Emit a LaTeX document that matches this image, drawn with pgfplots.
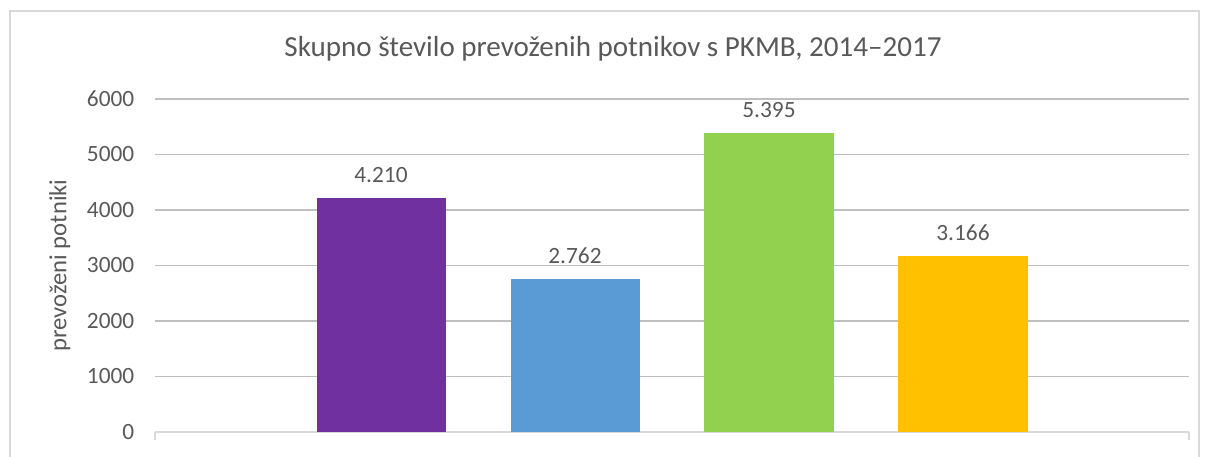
\documentclass[border=0pt]{standalone}
\usepackage{pgfplots}
\pgfplotsset{compat=1.18}
\usepackage{fontspec}
\setmainfont{Carlito}
\definecolor{txt}{HTML}{595959}
\definecolor{grid}{HTML}{D9D9D9}
\definecolor{c1}{HTML}{7030A0}
\definecolor{c2}{HTML}{5B9BD5}
\definecolor{c3}{HTML}{92D050}
\definecolor{c4}{HTML}{FFC000}
\begin{document}
\begin{tikzpicture}[x=0.75pt,y=0.75pt]
\path[use as bounding box] (0,0) rectangle (1208,457);
\draw[grid, line width=1.5pt] (9.5,0) -- (9.5,446) -- (1198.5,446) -- (1198.5,0);
\node[txt, font=\fontsize{21.8}{24}\selectfont] at (613,408) {Skupno število prevoženih potnikov s PKMB, 2014–2017};
\begin{axis}[
  at={(116.25pt,18.75pt)}, anchor=south west,
  scale only axis, width=775.5pt, height=249.75pt,
  xmin=-1.165, xmax=4.165, ymin=0, ymax=6000,
  ytick={0,1000,...,6000},
  xtick=\empty,
  axis y line*=left, axis x line*=bottom,
  y axis line style={draw=none},
  x axis line style={grid, line width=1pt},
  ymajorgrids, grid style={grid, line width=0.8pt},
  major y tick style={draw=none},
  yticklabel style={txt, font=\fontsize{17.5}{20}\selectfont, xshift=-12pt},
  /pgf/number format/assume math mode=true,
  /pgf/number format/1000 sep={},
  ylabel={prevoženi potniki},
  every axis y label/.style={at={(axis description cs:-0.092,0.5)}, rotate=90, anchor=center, txt, font=\fontsize{18.5}{20}\selectfont},
  ybar, bar width=0.665, bar shift=0pt,
  nodes near coords,
  nodes near coords style={txt, font=\fontsize{17.5}{20}\selectfont, /pgf/number format/1000 sep={.}, yshift=8pt},
  clip=false,
]
\addplot[fill=c1, draw=none] coordinates {(0,4210)};
\addplot[fill=c2, draw=none] coordinates {(1,2762)};
\addplot[fill=c3, draw=none] coordinates {(2,5395)};
\addplot[fill=c4, draw=none] coordinates {(3,3166)};
\draw[grid, line width=1pt] (axis cs:-1.165,0) -- ++(0pt,-6pt);
\draw[grid, line width=1pt] (axis cs:4.165,0) -- ++(0pt,-6pt);
\end{axis}
\end{tikzpicture}
\end{document}
